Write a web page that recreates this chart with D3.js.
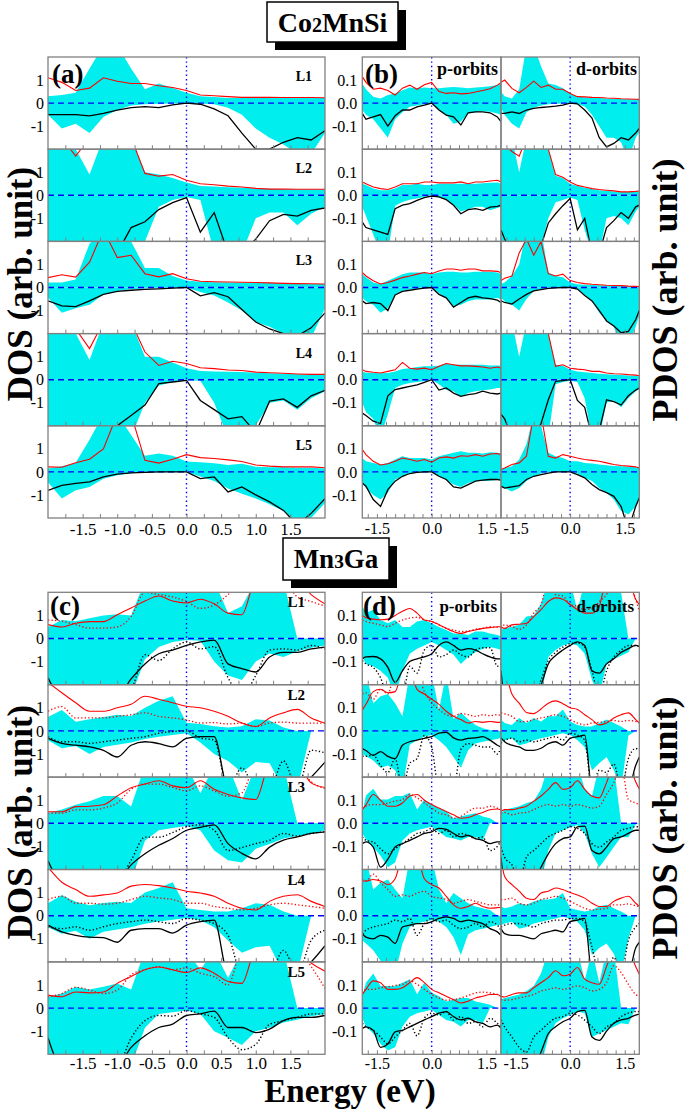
<!DOCTYPE html>
<html>
<head>
<meta charset="utf-8">
<script src="https://d3js.org/d3.v7.min.js"></script>
<style>
  body { margin: 0; background: #fff; }
  svg { display: block; font-family: "Liberation Serif", "Times New Roman", serif; }
</style>
</head>
<body>
<svg id="chart" width="685" height="1109"></svg>
<script>
// energy grids (eV)
const eWide = [-2.0,-1.8,-1.6,-1.4,-1.2,-1.0,-0.8,-0.6,-0.4,-0.2,0.0,0.2,0.4,0.6,0.8,1.0,1.2,1.4,1.6,1.8,2.0];
const eNarrow = [-1.9,-1.8,-1.6,-1.4,-1.2,-1.0,-0.8,-0.6,-0.4,-0.2,0.0,0.2,0.4,0.6,0.8,1.0,1.2,1.4,1.6,1.8,1.9];
const layers = ['L1','L2','L3','L4','L5'];
const wideLabels = [-1.5,-1.0,-0.5,0.0,0.5,1.0,1.5];
const narrowLabels = [-1.5,0.0,1.5];
const wideMinor = [-1.75,-1.5,-1.25,-1,-0.75,-0.5,-0.25,0,0.25,0.5,0.75,1,1.25,1.5,1.75];
const narrowMinor = [-1.75,-1.5,-1.25,-1,-0.75,-0.5,-0.25,0,0.25,0.5,0.75,1,1.25,1.5,1.75];
const dosTicks = [-1, 0, 1];
const pdosTicks = [-0.1, 0.0, 0.1];

// ---- Co2MnSi, (a) layer DOS: red = spin up, black = spin down (negative), Up/Dn = cyan bulk
const aL1Red = [1.1,0.9,0.55,0.65,1.1,0.95,0.85,0.85,0.75,0.68,0.55,0.35,0.32,0.28,0.25,0.25,0.25,0.24,0.24,0.24,0.23];
const aL1Up  = [0.3,0.35,0.45,1.5,2.5,2.5,1.5,0.6,0.85,0.65,0.45,0.3,0.26,0.22,0.22,0.22,0.22,0.22,0.22,0.22,0.22];
const aL1Dn  = [-0.5,-1.1,-0.9,-1.3,-0.6,-0.3,-0.1,-0.05,-0.03,-0.02,0,-0.02,-0.05,-0.2,-0.5,-1.1,-1.5,-1.8,-2.2,-2.2,-1.3];
const aL1Blk = [-0.5,-0.5,-0.5,-0.55,-0.45,-0.3,-0.2,-0.15,-0.2,-0.08,0,-0.05,-0.25,-0.55,-1.3,-2.0,-2.0,-1.7,-1.5,-1.6,-1.2];

const aL2Red = [2.5,2.5,1.7,2.5,2.5,2.5,2.5,0.95,0.83,0.9,0.65,0.5,0.46,0.4,0.36,0.3,0.27,0.27,0.26,0.26,0.26];
const aL2Up  = [2.5,2.5,2.0,0.9,2.5,2.5,2.5,1.0,0.9,0.75,0.55,0.4,0.38,0.35,0.33,0.3,0.28,0.26,0.25,0.25,0.25];
const aL2Dn  = [-2.5,-2.5,-2.5,-2.5,-2.5,-2.5,-2.5,-2.0,-0.5,-0.2,-0.07,-0.2,-2.5,-2.5,-2.5,-1.0,-0.75,-0.75,-1.3,-0.8,-0.5];
const aL2Blk = [-2.0,-2.5,-2.5,-2.5,-2.5,-2.5,-1.4,-1.15,-0.62,-0.32,-0.1,-1.6,-0.75,-2.5,-2.5,-1.9,-1.1,-0.83,-0.9,-0.65,-0.55];

const aL3Red = [0.43,0.55,0.45,1.1,2.5,1.3,1.4,0.6,0.46,0.6,0.38,0.27,0.25,0.24,0.23,0.22,0.2,0.18,0.17,0.16,0.15];
const aL3Up  = [0.22,0.22,0.35,1.9,2.5,2.5,2.0,0.85,0.85,0.5,0.3,0.25,0.23,0.22,0.21,0.2,0.19,0.17,0.16,0.15,0.15];
const aL3Dn  = [-0.45,-1.1,-0.9,-0.75,-0.3,-0.15,-0.08,-0.04,-0.02,-0.01,0,-0.2,-0.35,-0.65,-1.0,-1.5,-1.7,-2.0,-2.5,-2.2,-0.9];
const aL3Blk = [-0.58,-0.8,-0.83,-0.58,-0.3,-0.17,-0.12,-0.08,-0.06,-0.03,0,-0.36,-0.22,-0.4,-0.95,-1.5,-1.8,-2.0,-2.1,-1.75,-1.1];

const aL4Red = [2.5,2.5,2.2,1.35,2.5,2.5,2.5,1.2,0.62,0.8,0.7,0.52,0.48,0.42,0.4,0.33,0.3,0.28,0.25,0.23,0.23];
const aL4Up  = [2.5,2.5,2.0,0.85,2.5,2.5,2.5,1.0,1.0,0.75,0.5,0.38,0.36,0.35,0.33,0.3,0.28,0.26,0.24,0.22,0.2];
const aL4Dn  = [-2.5,-2.5,-2.5,-2.5,-2.5,-2.5,-2.5,-1.0,-0.25,-0.1,-0.03,-0.05,-1.0,-2.5,-2.5,-2.0,-1.0,-0.9,-1.3,-0.8,-0.5];
const aL4Blk = [-2.5,-2.5,-2.5,-2.5,-2.5,-2.0,-1.55,-1.1,-0.17,-0.1,-0.03,-0.9,-1.3,-1.7,-1.6,-2.3,-0.93,-0.83,-1.2,-0.7,-0.46];

const aL5Red = [0.22,0.2,0.4,0.55,1.0,2.5,2.5,0.5,0.38,0.55,0.75,0.62,0.58,0.52,0.45,0.3,0.25,0.22,0.22,0.22,0.18];
const aL5Up  = [0.15,0.25,0.4,1.4,2.5,2.5,1.6,0.7,0.8,0.7,0.45,0.42,0.38,0.3,0.35,0.22,0.2,0.2,0.18,0.18,0.15];
const aL5Dn  = [-0.45,-1.15,-0.8,-0.65,-0.3,-0.15,-0.06,-0.03,-0.02,-0.01,0,-0.2,-0.4,-0.72,-0.95,-1.15,-1.4,-1.7,-2.2,-2.0,-1.35];
const aL5Blk = [-0.8,-0.58,-0.5,-0.43,-0.22,-0.1,-0.04,-0.02,0,0,0,-0.29,-0.22,-0.87,-0.65,-1.0,-1.3,-1.67,-2.3,-1.8,-1.16];

// ---- Co2MnSi, (b) p-orbit PDOS
const bpL1Red = [0.115,0.09,0.06,0.065,0.055,0.035,0.065,0.078,0.06,0.08,0.09,0.05,0.042,0.045,0.04,0.042,0.048,0.055,0.062,0.078,0.088];
const bpL1Up  = [0.085,0.06,0.028,0.02,0.035,0.042,0.056,0.068,0.064,0.068,0.064,0.064,0.068,0.07,0.068,0.064,0.068,0.07,0.073,0.078,0.085];
const bpL1Dn  = [-0.03,-0.05,-0.07,-0.11,-0.15,-0.07,-0.04,-0.016,-0.01,-0.005,0,-0.03,-0.05,-0.09,-0.08,-0.045,-0.04,-0.035,-0.038,-0.045,-0.05];
const bpL1Blk = [-0.045,-0.07,-0.06,-0.05,-0.1,-0.055,-0.03,-0.03,-0.016,-0.009,0,-0.03,-0.052,-0.06,-0.095,-0.042,-0.038,-0.038,-0.042,-0.06,-0.08];
const bpL2Red = [0.058,0.05,0.036,0.029,0.025,0.036,0.05,0.05,0.05,0.058,0.058,0.054,0.054,0.054,0.058,0.05,0.058,0.058,0.062,0.065,0.058];
const bpL2Up  = [0.05,0.045,0.03,0.022,0.022,0.03,0.045,0.045,0.05,0.045,0.045,0.05,0.05,0.05,0.05,0.05,0.05,0.052,0.054,0.056,0.05];
const bpL2Dn  = [-0.05,-0.09,-0.17,-0.25,-0.25,-0.045,-0.029,-0.019,-0.014,-0.007,0,-0.01,-0.02,-0.04,-0.07,-0.06,-0.05,-0.05,-0.065,-0.055,-0.05];
const bpL2Blk = [-0.116,-0.14,-0.15,-0.16,-0.17,-0.058,-0.043,-0.036,-0.022,-0.01,-0.003,-0.007,-0.019,-0.043,-0.08,-0.062,-0.058,-0.065,-0.051,-0.048,-0.043];
const bpL3Red = [0.065,0.05,0.029,0.015,0.022,0.032,0.043,0.05,0.058,0.065,0.06,0.072,0.08,0.08,0.075,0.08,0.08,0.072,0.072,0.07,0.065];
const bpL3Up  = [0.058,0.045,0.022,0.015,0.029,0.043,0.058,0.065,0.065,0.065,0.058,0.065,0.068,0.068,0.065,0.065,0.068,0.068,0.068,0.065,0.06];
const bpL3Dn  = [-0.045,-0.06,-0.075,-0.11,-0.09,-0.03,-0.015,-0.008,-0.006,-0.003,0,-0.025,-0.045,-0.08,-0.075,-0.06,-0.052,-0.052,-0.052,-0.045,-0.052];
const bpL3Blk = [-0.058,-0.07,-0.065,-0.07,-0.1,-0.032,-0.017,-0.012,-0.007,-0.003,0,-0.03,-0.045,-0.085,-0.065,-0.045,-0.038,-0.045,-0.048,-0.055,-0.065];
const bpL4Red = [0.043,0.036,0.032,0.029,0.036,0.043,0.075,0.05,0.046,0.05,0.043,0.058,0.07,0.065,0.06,0.06,0.058,0.055,0.05,0.055,0.05];
const bpL4Up  = [0.036,0.03,0.029,0.028,0.029,0.036,0.046,0.05,0.055,0.058,0.058,0.06,0.07,0.065,0.065,0.065,0.065,0.065,0.062,0.062,0.06];
const bpL4Dn  = [-0.1,-0.14,-0.17,-0.25,-0.15,-0.036,-0.022,-0.014,-0.01,-0.007,0,-0.02,-0.045,-0.05,-0.075,-0.058,-0.05,-0.046,-0.043,-0.036,-0.036];
const bpL4Blk = [-0.145,-0.155,-0.18,-0.19,-0.07,-0.043,-0.036,-0.029,-0.022,-0.012,0,-0.045,-0.036,-0.058,-0.072,-0.065,-0.06,-0.05,-0.058,-0.062,-0.058];
const bpL5Red = [0.097,0.075,0.046,0.03,0.035,0.046,0.06,0.054,0.046,0.054,0.042,0.06,0.065,0.06,0.07,0.068,0.075,0.068,0.078,0.08,0.075];
const bpL5Up  = [0.06,0.046,0.039,0.032,0.039,0.054,0.068,0.06,0.06,0.06,0.054,0.068,0.075,0.083,0.09,0.083,0.083,0.08,0.085,0.083,0.08];
const bpL5Dn  = [-0.048,-0.07,-0.1,-0.12,-0.09,-0.033,-0.02,-0.005,-0.003,-0.001,0,-0.02,-0.035,-0.055,-0.065,-0.048,-0.04,-0.04,-0.038,-0.035,-0.036];
const bpL5Blk = [-0.048,-0.062,-0.12,-0.15,-0.077,-0.04,-0.019,-0.007,-0.002,0,0,-0.019,-0.033,-0.065,-0.07,-0.055,-0.04,-0.036,-0.033,-0.033,-0.036];

// ---- Co2MnSi, (b) d-orbit PDOS
const bdL1Red = [0.09,0.1,0.064,0.045,0.068,0.095,0.068,0.078,0.06,0.06,0.042,0.028,0.027,0.025,0.024,0.022,0.021,0.019,0.018,0.017,0.016];
const bdL1Up  = [0.05,0.03,0.02,0.06,0.25,0.25,0.16,0.085,0.078,0.064,0.042,0.028,0.025,0.023,0.022,0.02,0.019,0.018,0.017,0.016,0.015];
const bdL1Dn  = [-0.02,-0.05,-0.09,-0.11,-0.04,-0.02,-0.01,-0.005,-0.003,-0.002,0,-0.005,-0.015,-0.05,-0.1,-0.15,-0.15,-0.17,-0.25,-0.15,-0.125];
const bdL1Blk = [-0.045,-0.045,-0.038,-0.045,-0.03,-0.023,-0.019,-0.016,-0.013,-0.009,0,-0.003,-0.03,-0.065,-0.15,-0.19,-0.175,-0.15,-0.16,-0.13,-0.11];
const bdL2Red = [0.25,0.22,0.19,0.17,0.25,0.25,0.25,0.2,0.09,0.078,0.058,0.043,0.036,0.029,0.025,0.022,0.019,0.015,0.015,0.017,0.019];
const bdL2Up  = [0.25,0.25,0.25,0.1,0.25,0.25,0.25,0.2,0.085,0.075,0.05,0.04,0.033,0.027,0.022,0.02,0.017,0.015,0.014,0.015,0.016];
const bdL2Dn  = [-0.25,-0.25,-0.25,-0.25,-0.25,-0.25,-0.22,-0.1,-0.03,-0.02,-0.01,-0.02,-0.15,-0.25,-0.25,-0.1,-0.09,-0.1,-0.13,-0.07,-0.05];
const bdL2Blk = [-0.15,-0.19,-0.25,-0.25,-0.25,-0.25,-0.22,-0.12,-0.08,-0.045,-0.014,-0.15,-0.1,-0.25,-0.25,-0.14,-0.11,-0.075,-0.1,-0.05,-0.043];
const bdL3Red = [0.03,0.04,0.05,0.15,0.21,0.14,0.2,0.06,0.05,0.058,0.03,0.022,0.017,0.014,0.012,0.01,0.009,0.008,0.006,0.005,0.004];
const bdL3Up  = [0.015,0.022,0.05,0.1,0.25,0.25,0.25,0.065,0.05,0.045,0.022,0.014,0.012,0.011,0.01,0.009,0.008,0.007,0.006,0.005,0.005];
const bdL3Dn  = [-0.045,-0.06,-0.075,-0.1,-0.05,-0.015,-0.007,-0.003,-0.002,-0.002,0,-0.006,-0.03,-0.06,-0.11,-0.145,-0.17,-0.25,-0.25,-0.17,-0.12];
const bdL3Blk = [-0.058,-0.065,-0.072,-0.05,-0.03,-0.015,-0.009,-0.004,-0.002,0,0,-0.007,-0.035,-0.058,-0.1,-0.145,-0.167,-0.196,-0.19,-0.14,-0.1];
const bdL4Red = [0.25,0.25,0.25,0.2,0.25,0.2,0.25,0.2,0.058,0.065,0.05,0.046,0.043,0.036,0.036,0.029,0.026,0.025,0.022,0.02,0.017];
const bdL4Up  = [0.25,0.25,0.25,0.1,0.25,0.25,0.25,0.2,0.065,0.06,0.043,0.036,0.032,0.029,0.026,0.024,0.022,0.02,0.018,0.016,0.015];
const bdL4Dn  = [-0.25,-0.25,-0.25,-0.25,-0.25,-0.25,-0.25,-0.25,-0.02,-0.01,-0.005,-0.01,-0.08,-0.25,-0.25,-0.1,-0.09,-0.12,-0.08,-0.05,-0.04];
const bdL4Blk = [-0.15,-0.17,-0.25,-0.25,-0.25,-0.25,-0.19,-0.087,-0.007,-0.004,0,-0.09,-0.12,-0.25,-0.22,-0.087,-0.095,-0.11,-0.07,-0.045,-0.036];
const bdL5Red = [0.01,0.017,0.032,0.039,0.068,0.25,0.25,0.068,0.06,0.075,0.068,0.06,0.054,0.05,0.046,0.039,0.032,0.028,0.025,0.022,0.017];
const bdL5Up  = [0.01,0.017,0.025,0.054,0.12,0.25,0.2,0.083,0.068,0.06,0.046,0.046,0.039,0.036,0.032,0.029,0.026,0.024,0.022,0.02,0.018];
const bdL5Dn  = [-0.06,-0.07,-0.085,-0.07,-0.04,-0.019,-0.007,-0.002,0,0,0,-0.007,-0.026,-0.04,-0.07,-0.09,-0.12,-0.17,-0.185,-0.15,-0.12];
const bdL5Blk = [-0.062,-0.07,-0.065,-0.06,-0.033,-0.019,-0.012,-0.005,0,0,0,-0.012,-0.026,-0.055,-0.077,-0.09,-0.106,-0.15,-0.25,-0.15,-0.113];

// ---- Mn3Ga, (c) layer DOS (Dot = dotted curves)
const cL1Red    = [0.6,0.5,0.66,0.73,0.73,1.03,1.32,1.62,1.84,1.62,1.54,1.7,1.5,1.1,1.03,2.5,2.5,2.5,2.5,1.9,1.5];
const cL1RedDot = [0.8,0.75,0.6,0.45,0.45,0.5,0.95,2.0,1.9,1.8,1.6,1.3,1.45,1.9,2.5,2.5,2.5,2.5,1.8,1.6,1.4];
const cL1Up     = [0.5,0.8,0.75,0.88,1.0,1.05,1.0,2.5,2.5,2.5,2.5,2.5,2.5,1.1,1.4,2.5,2.5,2.5,0,0,0];
const cL1Dn     = [-2.5,-2.5,-2.5,-2.5,-2.5,-2.5,-2.5,-0.9,-0.37,-0.15,-0.07,-0.1,-1.0,-1.6,-1.8,-1.0,-0.65,-0.8,-0.55,-0.4,-0.3];
const cL1Blk    = [-1.7,-2.5,-2.5,-2.5,-2.5,-2.5,-1.75,-1.1,-0.66,-0.5,-0.3,-0.15,-0.07,-1.1,-1.3,-1.45,-0.8,-0.6,-0.6,-0.45,-0.37];
const cL1BlkDot = [-2.5,-2.5,-2.5,-2.5,-2.5,-2.5,-2.2,-0.7,-0.95,-0.45,-0.15,-0.45,-0.35,-1.7,-2.5,-1.6,-0.5,-0.45,-0.5,-0.3,-0.45];

const cL2Red    = [2.1,1.65,1.22,0.85,0.85,1.0,1.15,1.5,1.37,1.22,1.07,1.0,0.85,0.63,0.34,0.19,0.56,0.78,0.93,0.56,0.34];
const cL2RedDot = [0.85,1.05,0.56,0.56,0.56,0.63,0.7,0.78,0.63,0.56,0.48,0.34,0.36,0.3,0.34,0.19,0.34,0.38,0.34,0.34,0.33];
const cL2Up     = [0.6,0.9,0.4,0.5,0.6,0.7,0.65,1.0,1.3,1.5,0.35,0.3,0.2,0.15,0.2,0.5,0.45,0.15,0,0,0];
const cL2Dn     = [-0.4,-0.75,-0.65,-1.0,-0.7,-0.6,-0.5,-0.35,-0.25,-0.18,-0.1,-0.5,-1.0,-1.3,-1.8,-1.35,-1.4,-2.5,-2.5,0,0];
const cL2Blk    = [-0.32,-0.54,-0.62,-0.69,-0.84,-1.13,-0.62,-0.47,-0.55,-0.69,-0.32,-0.25,-0.25,-2.5,-2.5,-2.5,-2.5,-2.5,-2.5,-2.0,-1.35];
const cL2BlkDot = [-0.25,-0.47,-0.47,-0.54,-0.47,-0.4,-0.32,-0.25,-0.1,-0.03,0,-0.3,-0.4,-2.5,-1.6,-2.5,-2.5,-1.3,-2.5,-0.84,-0.95];

const cL3Red    = [0.5,0.5,0.72,0.74,0.8,1.18,1.54,1.7,1.84,1.62,1.54,1.84,1.47,1.25,1.1,1.03,2.5,2.5,2.5,1.75,1.55];
const cL3RedDot = [0.44,0.44,0.58,0.58,0.66,0.88,1.47,1.7,1.7,1.55,1.4,1.62,1.4,1.18,1.32,2.5,2.5,2.5,2.5,1.8,1.5];
const cL3Up     = [0.45,0.6,0.8,0.95,1.18,1.18,0.73,2.5,2.5,2.5,2.5,1.3,2.5,2.5,1.0,2.5,2.5,2.5,0,0,0];
const cL3Dn     = [-2.5,-2.5,-2.5,-2.5,-2.5,-2.5,-2.5,-0.75,-0.3,-0.2,-0.12,-0.3,-1.18,-1.6,-1.7,-1.1,-0.9,-0.66,-0.55,-0.45,-0.3];
const cL3Blk    = [-1.62,-2.5,-2.5,-2.5,-2.5,-2.5,-1.8,-1.32,-0.95,-0.66,-0.3,-0.18,-0.07,-0.88,-1.3,-1.54,-1.03,-0.73,-0.59,-0.44,-0.37];
const cL3BlkDot = [-2.5,-2.5,-2.5,-2.5,-2.5,-2.5,-1.6,-0.6,-0.6,-0.4,-0.15,-0.07,-0.3,-1.18,-1.05,-0.88,-0.73,-0.44,-0.55,-0.44,-0.37];

const cL4Red    = [2.1,1.45,1.13,0.84,0.9,0.98,1.28,1.35,1.3,1.2,1.06,0.98,0.84,0.54,0.32,0.25,0.62,0.84,0.91,0.62,0.4];
const cL4RedDot = [0.7,0.84,0.54,0.54,0.5,0.54,0.7,0.84,0.77,0.7,0.54,0.54,0.4,0.32,0.25,0.32,0.47,0.54,0.47,0.4,0.32];
const cL4Up     = [0.54,0.9,0.6,0.45,0.55,0.6,0.55,1.0,1.2,1.45,0.32,0.25,0.18,0.18,0.32,0.54,0.47,0.18,0,0,0];
const cL4Dn     = [-0.5,-0.78,-0.65,-1.0,-0.7,-0.6,-0.5,-0.35,-0.25,-0.18,-0.1,-0.2,-0.5,-1.07,-1.6,-1.37,-1.3,-2.5,-2.5,0,0];
const cL4Blk    = [-0.41,-0.7,-0.85,-0.93,-0.95,-1.15,-0.63,-0.56,-0.56,-0.75,-0.41,-0.26,-0.19,-2.5,-2.5,-2.5,-2.5,-2.5,-2.5,-2.0,-1.3];
const cL4BlkDot = [-0.48,-0.56,-0.48,-0.63,-0.48,-0.34,-0.26,-0.19,-0.26,-0.34,-0.12,-0.19,-0.34,-0.85,-2.5,-2.5,-2.5,-1.5,-2.5,-1.07,-0.63];

const cL5Red    = [0.56,0.49,0.7,0.66,0.7,1.07,1.37,1.66,1.78,1.66,1.54,1.74,1.51,1.15,1.07,2.5,2.5,2.5,2.5,1.95,1.6];
const cL5RedDot = [0.49,0.63,0.9,0.78,0.63,0.78,1.44,1.66,1.8,1.66,1.74,1.51,1.36,1.0,2.5,2.5,2.5,2.5,2.5,1.8,0.85];
const cL5Up     = [0.49,0.63,0.92,0.8,0.92,1.07,0.8,2.5,2.5,2.5,2.5,1.66,2.5,1.3,2.5,2.5,2.5,2.5,0,0,0];
const cL5Dn     = [-2.5,-2.5,-2.5,-2.5,-2.5,-2.5,-2.5,-0.85,-0.25,-0.18,-0.1,-0.25,-1.0,-1.28,-1.6,-1.0,-0.85,-0.62,-0.5,-0.35,-0.25];
const cL5Blk    = [-1.28,-2.5,-2.5,-2.5,-2.5,-2.5,-1.7,-1.2,-0.84,-0.69,-0.32,-0.25,-0.13,-0.84,-0.84,-1.06,-0.91,-0.54,-0.4,-0.4,-0.32];
const cL5BlkDot = [-2.5,-2.5,-2.5,-2.5,-2.5,-2.5,-1.3,-0.54,-0.32,-0.35,-0.1,-0.25,-0.4,-1.28,-1.8,-1.57,-0.7,-0.55,-0.4,-0.25,-0.25];

// ---- Mn3Ga, (d) p-orbit PDOS
const dpL1Red    = [0.1,0.09,0.084,0.081,0.084,0.1,0.118,0.13,0.11,0.08,0.074,0.06,0.044,0.03,0.022,0.03,0.037,0.044,0.047,0.051,0.051];
const dpL1RedDot = [0.08,0.074,0.066,0.059,0.051,0.066,0.08,0.088,0.092,0.08,0.074,0.059,0.044,0.037,0.03,0.032,0.04,0.044,0.051,0.048,0.051];
const dpL1Up     = [0.14,0.11,0.125,0.08,0.066,0.08,0.05,0.05,0.074,0.08,0.066,0.05,0.037,0.022,0.022,0.015,0.03,0.03,0.022,0.015,0.01];
const dpL1Dn     = [-0.08,-0.11,-0.12,-0.14,-0.17,-0.25,-0.14,-0.066,-0.044,-0.03,-0.015,-0.03,-0.05,-0.07,-0.11,-0.08,-0.06,-0.044,-0.037,-0.044,-0.05];
const dpL1Blk    = [-0.088,-0.08,-0.078,-0.088,-0.125,-0.19,-0.14,-0.1,-0.088,-0.08,-0.066,-0.03,-0.015,-0.03,-0.05,-0.044,-0.05,-0.066,-0.08,-0.088,-0.088];
const dpL1BlkDot = [-0.095,-0.11,-0.125,-0.17,-0.25,-0.25,-0.25,-0.12,-0.15,-0.05,-0.03,-0.08,-0.07,-0.05,-0.07,-0.08,-0.05,-0.04,-0.04,-0.12,-0.11];
const dpL2Red    = [0.09,0.115,0.17,0.18,0.165,0.17,0.25,0.25,0.18,0.16,0.137,0.115,0.085,0.063,0.049,0.034,0.041,0.037,0.041,0.037,0.037];
const dpL2RedDot = [0.16,0.165,0.137,0.18,0.16,0.25,0.25,0.25,0.25,0.17,0.122,0.093,0.07,0.063,0.075,0.07,0.063,0.07,0.066,0.07,0.066];
const dpL2Up     = [0.25,0.25,0.12,0.15,0.16,0.12,0.063,0.25,0.25,0.25,0.25,0.09,0.25,0.05,0.08,0.05,0.026,0.012,0.004,0,0];
const dpL2Dn     = [-0.1,-0.11,-0.128,-0.16,-0.15,-0.17,-0.25,-0.06,-0.04,-0.025,-0.018,-0.04,-0.07,-0.113,-0.16,-0.084,-0.055,-0.047,-0.04,-0.035,-0.03];
const dpL2Blk    = [-0.076,-0.085,-0.106,-0.09,-0.11,-0.12,-0.062,-0.047,-0.04,-0.032,-0.025,-0.01,-0.006,-0.03,-0.04,-0.032,-0.03,-0.025,-0.04,-0.062,-0.07];
const dpL2BlkDot = [-0.11,-0.11,-0.105,-0.15,-0.18,-0.12,-0.25,-0.14,-0.12,-0.02,-0.07,-0.25,-0.25,-0.25,-0.08,-0.055,-0.062,-0.07,-0.07,-0.1,-0.07];
const dpL3Red    = [0.059,0.08,0.125,0.1,0.074,0.074,0.088,0.118,0.125,0.1,0.081,0.066,0.051,0.037,0.022,0.025,0.037,0.047,0.059,0.062,0.059];
const dpL3RedDot = [0.066,0.074,0.081,0.081,0.088,0.096,0.103,0.125,0.11,0.088,0.066,0.044,0.037,0.022,0.03,0.051,0.066,0.066,0.074,0.066,0.059];
const dpL3Up     = [0.044,0.12,0.15,0.103,0.103,0.118,0.118,0.132,0.06,0.103,0.081,0.066,0.051,0.022,0.029,0.037,0.044,0.029,0.022,0,0];
const dpL3Dn     = [-0.044,-0.07,-0.103,-0.14,-0.19,-0.17,-0.074,-0.044,-0.03,-0.022,-0.015,-0.037,-0.059,-0.066,-0.074,-0.059,-0.059,-0.074,0,0,0];
const dpL3Blk    = [-0.088,-0.08,-0.103,-0.19,-0.155,-0.103,-0.088,-0.074,-0.059,-0.044,-0.037,-0.022,-0.026,-0.044,-0.059,-0.052,-0.066,-0.074,-0.088,-0.08,-0.08];
const dpL3BlkDot = [-0.059,-0.074,-0.081,-0.11,-0.132,-0.11,-0.088,-0.066,-0.044,-0.037,-0.022,-0.044,-0.03,-0.059,-0.044,-0.052,-0.066,-0.059,-0.118,-0.1,-0.074];
const dpL4Red    = [0.15,0.15,0.157,0.15,0.135,0.16,0.25,0.25,0.25,0.16,0.135,0.12,0.084,0.047,0.032,0.04,0.054,0.04,0.032,0.035,0.037];
const dpL4RedDot = [0.157,0.15,0.18,0.143,0.113,0.084,0.09,0.084,0.098,0.106,0.084,0.077,0.07,0.054,0.062,0.07,0.062,0.054,0.047,0.047,0.043];
const dpL4Up     = [0.25,0.25,0.113,0.143,0.157,0.113,0.076,0.25,0.25,0.25,0.25,0.113,0.054,0.098,0.076,0.054,0.04,0.032,0.025,0,0];
const dpL4Dn     = [-0.107,-0.12,-0.15,-0.195,-0.25,-0.25,-0.12,-0.049,-0.034,-0.026,-0.019,-0.026,-0.049,-0.093,-0.17,-0.08,-0.063,-0.056,-0.049,-0.04,-0.04];
const dpL4Blk    = [-0.078,-0.093,-0.1,-0.085,-0.093,-0.12,-0.049,-0.041,-0.034,-0.034,-0.026,-0.012,-0.005,-0.012,-0.026,-0.019,-0.026,-0.034,-0.056,-0.07,-0.085];
const dpL4BlkDot = [-0.078,-0.063,-0.049,-0.041,-0.034,-0.019,-0.026,-0.012,-0.085,-0.034,-0.012,-0.026,-0.019,-0.041,-0.056,-0.049,-0.034,-0.049,-0.026,-0.041,-0.063];
const dpL5Red    = [0.059,0.081,0.118,0.11,0.081,0.081,0.088,0.11,0.132,0.11,0.081,0.066,0.051,0.037,0.022,0.03,0.044,0.051,0.059,0.059,0.051];
const dpL5RedDot = [0.066,0.081,0.081,0.088,0.092,0.098,0.103,0.118,0.103,0.081,0.059,0.044,0.034,0.037,0.044,0.054,0.066,0.069,0.066,0.059,0.051];
const dpL5Up     = [0.051,0.11,0.15,0.096,0.096,0.096,0.11,0.125,0.06,0.11,0.066,0.051,0.029,0.037,0.044,0.044,0.029,0.022,0.015,0,0];
const dpL5Dn     = [-0.044,-0.08,-0.11,-0.155,-0.184,-0.17,-0.08,-0.037,-0.022,-0.015,-0.007,-0.03,-0.051,-0.059,-0.08,-0.052,-0.052,-0.066,0,0,0];
const dpL5Blk    = [-0.088,-0.081,-0.096,-0.17,-0.155,-0.103,-0.096,-0.081,-0.066,-0.051,-0.037,-0.022,-0.015,-0.037,-0.051,-0.044,-0.059,-0.066,-0.081,-0.074,-0.088];
const dpL5BlkDot = [-0.066,-0.081,-0.096,-0.125,-0.155,-0.125,-0.096,-0.066,-0.12,-0.044,-0.022,-0.03,-0.015,-0.052,-0.037,-0.066,-0.059,-0.081,-0.044,-0.066,-0.081];

// ---- Mn3Ga, (d) d-orbit PDOS
const ddL1Red    = [0.051,0.044,0.059,0.062,0.066,0.095,0.125,0.16,0.176,0.17,0.147,0.125,0.11,0.11,0.14,0.25,0.25,0.25,0.25,0.17,0.147];
const ddL1RedDot = [0.044,0.059,0.051,0.04,0.059,0.11,0.147,0.25,0.19,0.184,0.147,0.14,0.125,0.13,0.16,0.19,0.25,0.25,0.25,0.17,0.118];
const ddL1Up     = [0.037,0.044,0.051,0.059,0.095,0.1,0.15,0.25,0.25,0.25,0.25,0.12,0.25,0.25,0.25,0.25,0.25,0.2,0,0,0];
const ddL1Dn     = [-0.25,-0.25,-0.25,-0.25,-0.25,-0.25,-0.25,-0.08,-0.05,-0.03,-0.022,-0.03,-0.066,-0.18,-0.25,-0.11,-0.09,-0.075,-0.06,0,0];
const ddL1Blk    = [-0.14,-0.25,-0.25,-0.25,-0.25,-0.25,-0.2,-0.11,-0.074,-0.05,-0.03,-0.015,-0.03,-0.14,-0.15,-0.11,-0.088,-0.06,-0.044,-0.03,-0.034];
const ddL1BlkDot = [-0.25,-0.25,-0.25,-0.25,-0.25,-0.25,-0.18,-0.095,-0.06,-0.037,-0.022,-0.019,-0.037,-0.14,-0.25,-0.14,-0.08,-0.05,-0.03,-0.03,-0.037];
const ddL2Red    = [0.25,0.25,0.16,0.12,0.08,0.075,0.095,0.12,0.13,0.118,0.1,0.093,0.07,0.049,0.026,0.034,0.056,0.07,0.078,0.049,0.034];
const ddL2RedDot = [0.078,0.074,0.063,0.04,0.041,0.049,0.056,0.063,0.07,0.063,0.049,0.034,0.026,0.034,0.037,0.041,0.045,0.041,0.045,0.041,0.037];
const ddL2Up     = [0.049,0.034,0.026,0.056,0.034,0.056,0.041,0.063,0.063,0.093,0.041,0.026,0.019,0.019,0.034,0.049,0.034,0.019,0,0,0];
const ddL2Dn     = [-0.047,-0.04,-0.032,-0.062,-0.055,-0.04,-0.032,-0.025,-0.018,-0.01,-0.018,-0.04,-0.07,-0.17,-0.14,-0.113,-0.17,-0.25,-0.02,0,0];
const ddL2Blk    = [-0.03,-0.047,-0.062,-0.069,-0.084,-0.084,-0.075,-0.055,-0.047,-0.062,-0.032,-0.025,-0.018,-0.25,-0.25,-0.25,-0.25,-0.25,-0.25,-0.15,-0.113];
const ddL2BlkDot = [-0.054,-0.04,-0.032,-0.047,-0.04,-0.047,-0.04,-0.032,-0.025,-0.04,-0.01,-0.018,-0.04,-0.25,-0.17,-0.18,-0.143,-0.25,-0.12,-0.076,-0.084];
const ddL3Red    = [0.052,0.059,0.059,0.066,0.074,0.096,0.118,0.147,0.176,0.147,0.154,0.184,0.147,0.118,0.11,0.176,0.25,0.25,0.25,0.18,0.147];
const ddL3RedDot = [0.044,0.047,0.037,0.044,0.047,0.059,0.074,0.081,0.074,0.081,0.074,0.081,0.074,0.066,0.074,0.125,0.176,0.25,0.103,0.088,0.081];
const ddL3Up     = [0.044,0.059,0.066,0.074,0.088,0.096,0.147,0.25,0.25,0.25,0.25,0.25,0.15,0.118,0.25,0.25,0.25,0,0,0,0];
const ddL3Dn     = [-0.25,-0.25,-0.25,-0.25,-0.25,-0.25,-0.25,-0.118,-0.044,-0.03,-0.018,-0.007,-0.044,-0.132,-0.19,-0.147,-0.103,-0.059,-0.06,-0.005,0];
const ddL3Blk    = [-0.147,-0.25,-0.25,-0.25,-0.25,-0.25,-0.19,-0.132,-0.088,-0.066,-0.059,-0.015,-0.012,-0.118,-0.132,-0.103,-0.066,-0.059,-0.044,-0.03,-0.03];
const ddL3BlkDot = [-0.103,-0.147,-0.18,-0.25,-0.147,-0.118,-0.088,-0.059,-0.044,-0.03,-0.015,-0.022,-0.044,-0.088,-0.103,-0.081,-0.059,-0.03,-0.022,-0.015,-0.015];
const ddL4Red    = [0.25,0.17,0.135,0.106,0.076,0.07,0.098,0.106,0.12,0.113,0.1,0.09,0.076,0.054,0.04,0.04,0.062,0.076,0.084,0.054,0.04];
const ddL4RedDot = [0.07,0.07,0.076,0.054,0.047,0.054,0.07,0.076,0.084,0.076,0.062,0.047,0.032,0.025,0.028,0.032,0.047,0.047,0.051,0.043,0.04];
const ddL4Up     = [0.04,0.032,0.04,0.054,0.047,0.062,0.07,0.07,0.076,0.098,0.032,0.025,0.018,0.025,0.04,0.047,0.032,0.018,0,0,0];
const ddL4Dn     = [-0.041,-0.034,-0.026,-0.056,-0.049,-0.034,-0.026,-0.019,-0.012,-0.005,-0.012,-0.026,-0.063,-0.17,-0.14,-0.12,-0.165,-0.25,-0.1,0,0];
const ddL4Blk    = [-0.056,-0.078,-0.085,-0.085,-0.093,-0.1,-0.078,-0.07,-0.063,-0.07,-0.026,-0.019,-0.012,-0.25,-0.25,-0.25,-0.25,-0.25,-0.25,-0.14,-0.115];
const ddL4BlkDot = [-0.049,-0.041,-0.034,-0.034,-0.041,-0.049,-0.034,-0.026,-0.019,-0.019,-0.012,-0.012,-0.026,-0.137,-0.25,-0.25,-0.18,-0.25,-0.107,-0.049,-0.034];
const ddL5Red    = [0.051,0.048,0.059,0.066,0.066,0.088,0.11,0.132,0.162,0.14,0.147,0.176,0.125,0.11,0.103,0.18,0.25,0.25,0.25,0.18,0.147];
const ddL5RedDot = [0.037,0.034,0.037,0.044,0.051,0.059,0.074,0.081,0.088,0.081,0.088,0.096,0.088,0.074,0.081,0.11,0.184,0.154,0.103,0.059,0.051];
const ddL5Up     = [0.037,0.044,0.051,0.059,0.074,0.096,0.15,0.25,0.25,0.25,0.25,0.25,0.12,0.25,0.11,0.25,0.25,0,0,0,0];
const ddL5Dn     = [-0.25,-0.25,-0.25,-0.25,-0.25,-0.25,-0.25,-0.125,-0.066,-0.044,-0.03,-0.015,-0.022,-0.125,-0.11,-0.096,-0.081,-0.066,-0.07,0,0];
const ddL5Blk    = [-0.25,-0.25,-0.25,-0.25,-0.25,-0.25,-0.19,-0.11,-0.081,-0.059,-0.044,-0.015,-0.01,-0.125,-0.14,-0.1,-0.066,-0.051,-0.044,-0.03,-0.026];
const ddL5BlkDot = [-0.05,-0.081,-0.125,-0.17,-0.19,-0.125,-0.096,-0.066,-0.044,-0.037,-0.022,-0.03,-0.052,-0.081,-0.11,-0.081,-0.066,-0.037,-0.022,-0.015,-0.015];

// tables built from the arrays above
const coLeft = [
  {red: aL1Red, blk: aL1Blk, up: aL1Up, dn: aL1Dn},
  {red: aL2Red, blk: aL2Blk, up: aL2Up, dn: aL2Dn},
  {red: aL3Red, blk: aL3Blk, up: aL3Up, dn: aL3Dn},
  {red: aL4Red, blk: aL4Blk, up: aL4Up, dn: aL4Dn},
  {red: aL5Red, blk: aL5Blk, up: aL5Up, dn: aL5Dn}];
const coP = [
  {red: bpL1Red, blk: bpL1Blk, up: bpL1Up, dn: bpL1Dn},
  {red: bpL2Red, blk: bpL2Blk, up: bpL2Up, dn: bpL2Dn},
  {red: bpL3Red, blk: bpL3Blk, up: bpL3Up, dn: bpL3Dn},
  {red: bpL4Red, blk: bpL4Blk, up: bpL4Up, dn: bpL4Dn},
  {red: bpL5Red, blk: bpL5Blk, up: bpL5Up, dn: bpL5Dn}];
const coD = [
  {red: bdL1Red, blk: bdL1Blk, up: bdL1Up, dn: bdL1Dn},
  {red: bdL2Red, blk: bdL2Blk, up: bdL2Up, dn: bdL2Dn},
  {red: bdL3Red, blk: bdL3Blk, up: bdL3Up, dn: bdL3Dn},
  {red: bdL4Red, blk: bdL4Blk, up: bdL4Up, dn: bdL4Dn},
  {red: bdL5Red, blk: bdL5Blk, up: bdL5Up, dn: bdL5Dn}];
const mnLeft = [
  {red: cL1Red, redDot: cL1RedDot, blk: cL1Blk, blkDot: cL1BlkDot, up: cL1Up, dn: cL1Dn},
  {red: cL2Red, redDot: cL2RedDot, blk: cL2Blk, blkDot: cL2BlkDot, up: cL2Up, dn: cL2Dn},
  {red: cL3Red, redDot: cL3RedDot, blk: cL3Blk, blkDot: cL3BlkDot, up: cL3Up, dn: cL3Dn},
  {red: cL4Red, redDot: cL4RedDot, blk: cL4Blk, blkDot: cL4BlkDot, up: cL4Up, dn: cL4Dn},
  {red: cL5Red, redDot: cL5RedDot, blk: cL5Blk, blkDot: cL5BlkDot, up: cL5Up, dn: cL5Dn}];
const mnP = [
  {red: dpL1Red, redDot: dpL1RedDot, blk: dpL1Blk, blkDot: dpL1BlkDot, up: dpL1Up, dn: dpL1Dn},
  {red: dpL2Red, redDot: dpL2RedDot, blk: dpL2Blk, blkDot: dpL2BlkDot, up: dpL2Up, dn: dpL2Dn},
  {red: dpL3Red, redDot: dpL3RedDot, blk: dpL3Blk, blkDot: dpL3BlkDot, up: dpL3Up, dn: dpL3Dn},
  {red: dpL4Red, redDot: dpL4RedDot, blk: dpL4Blk, blkDot: dpL4BlkDot, up: dpL4Up, dn: dpL4Dn},
  {red: dpL5Red, redDot: dpL5RedDot, blk: dpL5Blk, blkDot: dpL5BlkDot, up: dpL5Up, dn: dpL5Dn}];
const mnD = [
  {red: ddL1Red, redDot: ddL1RedDot, blk: ddL1Blk, blkDot: ddL1BlkDot, up: ddL1Up, dn: ddL1Dn},
  {red: ddL2Red, redDot: ddL2RedDot, blk: ddL2Blk, blkDot: ddL2BlkDot, up: ddL2Up, dn: ddL2Dn},
  {red: ddL3Red, redDot: ddL3RedDot, blk: ddL3Blk, blkDot: ddL3BlkDot, up: ddL3Up, dn: ddL3Dn},
  {red: ddL4Red, redDot: ddL4RedDot, blk: ddL4Blk, blkDot: ddL4BlkDot, up: ddL4Up, dn: ddL4Dn},
  {red: ddL5Red, redDot: ddL5RedDot, blk: ddL5Blk, blkDot: ddL5BlkDot, up: ddL5Up, dn: ddL5Dn}];

// layout
const svg = d3.select('#chart');
const serif = '"Liberation Serif", "Times New Roman", serif';
const cyan = '#00eeee';
const frame = '#808080';
const coRows = [57, 149.2, 241.4, 333.6, 425.8, 518];
const mnRows = [592.3, 684.7, 777.1, 869.5, 961.9, 1054.3];
const colLeft = [48, 325], colP = [362.3, 501], colD = [501, 639.3];
let clipN = 0;

function drawSub(cols, top, bottom, energy, xMax, yMax, s, smooth) {
  const x = d3.scaleLinear().domain([-xMax, xMax]).range(cols);
  const y = d3.scaleLinear().domain([-yMax, yMax]).range([bottom, top]);
  const id = 'clip' + (clipN++);
  svg.append('clipPath').attr('id', id).append('rect')
    .attr('x', cols[0]).attr('y', top).attr('width', cols[1] - cols[0]).attr('height', bottom - top);
  const g = svg.append('g').attr('clip-path', `url(#${id})`);
  const pts = vals => energy.map((e, i) => [e, vals[i]]);

  // cyan reference DOS, above and below zero
  const area = d3.area().x(d => x(d[0])).y0(y(0)).y1(d => y(d[1]));
  [s.up, s.dn].forEach(v => g.append('path').datum(pts(v)).attr('d', area).attr('fill', cyan));

  // zero line and Fermi level
  g.append('line').attr('x1', cols[0]).attr('x2', cols[1]).attr('y1', y(0)).attr('y2', y(0))
    .attr('stroke', '#0000ff').attr('stroke-width', 1.4).attr('stroke-dasharray', '6,4');
  g.append('line').attr('x1', x(0)).attr('x2', x(0)).attr('y1', top).attr('y2', bottom)
    .attr('stroke', '#0000ff').attr('stroke-width', 1.4).attr('stroke-dasharray', '1.4,3');

  const line = d3.line().x(d => x(d[0])).y(d => y(d[1]))
    .curve(smooth ? d3.curveMonotoneX : d3.curveLinear);
  const curves = [
    [s.redDot, '#ff0000', 1.3, '1.3,2.2'],
    [s.red, '#ff0000', 1.1, null],
    [s.blkDot, '#000000', 1.4, '1.3,2.2'],
    [s.blk, '#000000', 1.3, null]];
  curves.forEach(([v, c, w, dash]) => {
    if (!v) return;
    g.append('path').datum(pts(v)).attr('d', line).attr('fill', 'none')
      .attr('stroke', c).attr('stroke-width', w).attr('stroke-dasharray', dash);
  });

  // inward minor ticks on the bottom edge
  svg.append('g').attr('transform', `translate(0,${bottom})`)
    .call(d3.axisBottom(x).tickValues(xMax > 1.95 ? wideMinor : narrowMinor)
      .tickSizeInner(-4).tickSizeOuter(0).tickFormat(''))
    .call(a => a.select('.domain').remove())
    .selectAll('line').attr('stroke', frame);

  svg.append('rect').attr('x', cols[0]).attr('y', top)
    .attr('width', cols[1] - cols[0]).attr('height', bottom - top)
    .attr('fill', 'none').attr('stroke', frame).attr('stroke-width', 1.3);
  return {x, y};
}

function yLabels(sc, left, ticks, fmt, pad) {
  svg.append('g').attr('transform', `translate(${left},0)`)
    .call(d3.axisLeft(sc).tickValues(ticks).tickSize(0).tickPadding(pad).tickFormat(fmt))
    .call(a => a.select('.domain').remove())
    .attr('font-family', serif).attr('font-size', 16);
}

function xLabels(sc, bottom, ticks, size, pad) {
  svg.append('g').attr('transform', `translate(0,${bottom})`)
    .call(d3.axisBottom(sc).tickValues(ticks).tickSize(0).tickPadding(pad).tickFormat(v => v.toFixed(1)))
    .call(a => a.select('.domain').remove())
    .attr('font-family', serif).attr('font-size', size);
}

function drawGroup(rows, left, pcol, dcol, smooth, lab) {
  for (let i = 0; i < 5; i++) {
    const top = rows[i], bottom = rows[i + 1];
    const a = drawSub(colLeft, top, bottom, eWide, 2, 2, left[i], smooth);
    const b = drawSub(colP, top, bottom, eNarrow, 1.9, 0.2, pcol[i], smooth);
    const c = drawSub(colD, top, bottom, eNarrow, 1.9, 0.2, dcol[i], smooth);
    yLabels(a.y, colLeft[0], dosTicks, v => String(v), 4);
    yLabels(b.y, colP[0], pdosTicks, v => v.toFixed(1), 5);
    svg.append('text').attr('x', lab.lx).attr('y', top + lab.ly).attr('text-anchor', 'end')
      .attr('font-family', serif).attr('font-weight', 'bold').attr('font-size', lab.ls)
      .text(layers[i]);
    if (i === 4) {
      xLabels(a.x, bottom, wideLabels, 17, lab.pad);
      xLabels(b.x, bottom, narrowLabels, 16, lab.pad);
      xLabels(c.x, bottom, narrowLabels, 16, lab.pad);
    }
  }
}

drawGroup(coRows, coLeft, coP, coD, false, {lx: 312, ly: 24, ls: 14, pad: 5});
drawGroup(mnRows, mnLeft, mnP, mnD, true, {lx: 305, ly: 15, ls: 15, pad: 3});

// panel tags and orbit labels
function bold(txt, x, y, size, anchor) {
  return svg.append('text').attr('x', x).attr('y', y).attr('text-anchor', anchor || 'start')
    .attr('font-family', serif).attr('font-weight', 'bold').attr('font-size', size).text(txt);
}
bold('(a)', 52, 83, 27);
bold('(b)', 365, 83, 27);
bold('(c)', 50, 615, 27);
bold('(d)', 363, 615, 27);
bold('p-orbits', 498, 75, 18, 'end');
bold('d-orbits', 637, 75, 18, 'end');
bold('p-orbits', 497, 612, 17, 'end');
bold('d-orbits', 634, 612, 17, 'end');

// compound title boxes with drop shadow
function titleBox(x, y, w, h, main, sub, rest, cx, base, size) {
  svg.append('rect').attr('x', x + 8).attr('y', y + 8).attr('width', w).attr('height', h).attr('fill', '#000');
  svg.append('rect').attr('x', x).attr('y', y).attr('width', w).attr('height', h)
    .attr('fill', '#fff').attr('stroke', '#000').attr('stroke-width', 1.5);
  const t = bold(main, cx, base, size, 'middle');
  t.append('tspan').attr('font-size', size * 0.72).text(sub);
  t.append('tspan').text(rest);
}
titleBox(267, 2, 131, 40, 'Co', '2', 'MnSi', 332.5, 32, 28);
titleBox(283, 538, 106, 42, 'Mn', '3', 'Ga', 336, 568, 27);

// axis titles
function vTitle(txt, x, y, size) {
  svg.append('text').attr('transform', `translate(${x},${y}) rotate(-90)`).attr('text-anchor', 'middle')
    .attr('font-family', serif).attr('font-weight', 'bold').attr('font-size', size).text(txt);
}
vTitle('DOS (arb. unit)', 31.5, 284, 35);
vTitle('DOS (arb. unit)', 31.5, 822, 35);
vTitle('PDOS (arb. unit)', 677, 290, 36);
vTitle('PDOS (arb. unit)', 677, 828, 36);
bold('Energy (eV)', 350, 1102, 33, 'middle');
</script>
</body>
</html>
